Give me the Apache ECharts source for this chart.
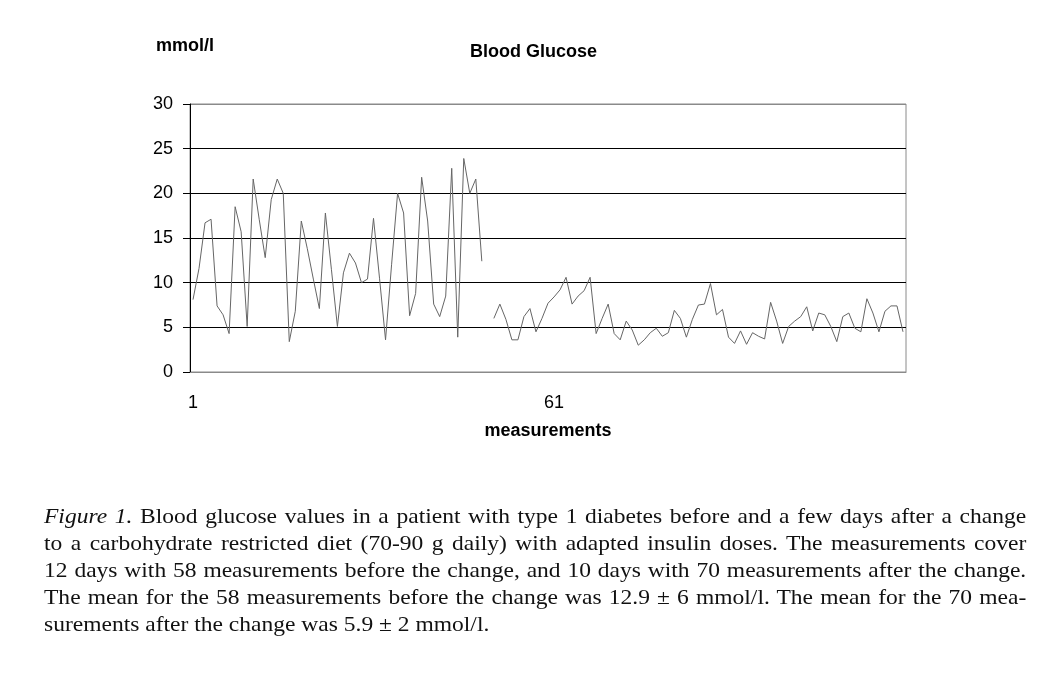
<!DOCTYPE html>
<html>
<head>
<meta charset="utf-8">
<script src="https://cdn.jsdelivr.net/npm/echarts@6/dist/echarts.min.js"></script>
<style>
  html, body { margin: 0; padding: 0; background: #fff; }
  #chart { position: absolute; left: 0; top: 0; width: 1057px; height: 676px; }
  #caption { position: absolute; left: 44px; top: 503px; width: 877px;
    transform: scaleX(1.12); transform-origin: 0 0;
    font-family: "Liberation Serif", "Times New Roman", serif; font-size: 21px; color: #111; }
  #caption div { height: 27px; line-height: 27px; white-space: nowrap; }
  #caption div.j { text-align: justify; text-align-last: justify; }
</style>
</head>
<body>
<div id="chart"></div>
<div id="caption">
  <div class="j"><i>Figure 1.</i> Blood glucose values in a patient with type 1 diabetes before and a few days after a change</div>
  <div class="j">to a carbohydrate restricted diet (70-90 g daily) with adapted insulin doses. The measurements cover</div>
  <div class="j">12 days with 58 measurements before the change, and 10 days with 70 measurements after the change.</div>
  <div class="j">The mean for the 58 measurements before the change was 12.9 ± 6 mmol/l. The mean for the 70 mea-</div>
  <div>surements after the change was 5.9 ± 2 mmol/l.</div>
</div>
<script>
// Measurements before the diet change (points 1..49)
var before = [8.1, 11.6, 16.7, 17.1, 7.4, 6.4, 4.3, 18.5, 15.7, 5.1,
  21.6, 17.1, 12.8, 19.3, 21.6, 20.0, 3.4, 6.8, 16.9, 13.8,
  10.4, 7.1, 17.8, 11.5, 5.1, 11.1, 13.3, 12.2, 10.0, 10.4,
  17.2, 10.5, 3.6, 12.0, 20.0, 17.8, 6.3, 8.8, 21.8, 16.9,
  7.6, 6.2, 8.5, 22.8, 3.9, 23.9, 20.0, 21.6, 12.4];
// Gap (point 50)
var gap = [null];
// Measurements after the diet change (points 51..119)
var after = [6.0, 7.6, 5.9, 3.6, 3.6, 6.2, 7.1, 4.5, 6.0, 7.7,
  8.4, 9.2, 10.6, 7.6, 8.5, 9.1, 10.6, 4.3, 6.0, 7.6,
  4.3, 3.6, 5.7, 4.7, 3.0, 3.6, 4.4, 4.9, 4.0, 4.4,
  6.9, 6.0, 3.9, 5.9, 7.5, 7.6, 9.9, 6.4, 7.0, 3.9,
  3.2, 4.6, 3.1, 4.4, 4.0, 3.7, 7.8, 5.7, 3.2, 5.1,
  5.7, 6.2, 7.3, 4.6, 6.6, 6.4, 5.1, 3.4, 6.2, 6.6,
  4.9, 4.5, 8.2, 6.6, 4.5, 6.8, 7.4, 7.4, 4.5];
var values = before.concat(gap, after);
var categories = [];
for (var i = 1; i <= values.length; i++) categories.push(String(i));
var yTicks = { min: 0, max: 30, interval: 5 };

var chart = echarts.init(document.getElementById('chart'), null, { renderer: 'canvas' });
chart.setOption({
  animation: false,
  backgroundColor: '#fff',
  title: [
    { text: 'Blood Glucose', left: 465, top: 38,
      textStyle: { fontFamily: 'Arial, Liberation Sans, sans-serif', fontWeight: 'bold', fontSize: 18, color: '#000' } },
    { text: 'mmol/l', left: 151, top: 32,
      textStyle: { fontFamily: 'Arial, Liberation Sans, sans-serif', fontWeight: 'bold', fontSize: 18, color: '#000' } }
  ],
  grid: { left: 190, right: 151, top: 104, bottom: 304, show: true, borderColor: '#8a8a8a', borderWidth: 1, backgroundColor: 'transparent' },
  xAxis: {
    type: 'category', data: categories, boundaryGap: true,
    name: 'measurements', nameLocation: 'middle', nameGap: 50,
    nameTextStyle: { fontFamily: 'Arial, Liberation Sans, sans-serif', fontWeight: 'bold', fontSize: 18, color: '#000' },
    axisLine: { show: true, lineStyle: { color: '#8a8a8a', width: 1 } },
    axisTick: { show: false },
    axisLabel: { interval: 59, margin: 22, fontFamily: 'Arial, Liberation Sans, sans-serif', fontSize: 18, color: '#000' },
    splitLine: { show: false }
  },
  yAxis: {
    type: 'value', min: yTicks.min, max: yTicks.max, interval: yTicks.interval,
    axisLine: { show: true, lineStyle: { color: '#000', width: 1 } },
    axisTick: { show: true, length: 7, lineStyle: { color: '#000', width: 1 } },
    axisLabel: { margin: 17, fontFamily: 'Arial, Liberation Sans, sans-serif', fontSize: 18, color: '#000' },
    splitLine: { show: true, lineStyle: { color: ['#8a8a8a', '#000', '#000', '#000', '#000', '#000', '#8a8a8a'], width: 1 } }
  },
  series: [{
    type: 'line', data: values, connectNulls: false, showSymbol: false, symbol: 'none',
    lineStyle: { color: '#666', width: 1 }
  }]
});
</script>
</body>
</html>
